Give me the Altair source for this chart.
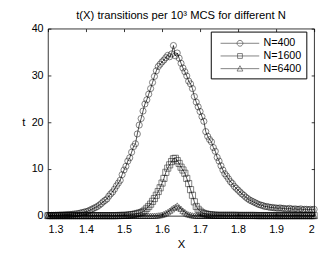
import altair as alt
import pandas as pd

X = [1.300, 1.305, 1.310, 1.315, 1.320, 1.325, 1.330, 1.335, 1.340, 1.345,
     1.350, 1.355, 1.360, 1.365, 1.370, 1.375, 1.380, 1.385, 1.390, 1.395,
     1.400, 1.405, 1.410, 1.415, 1.420, 1.425, 1.430, 1.435, 1.440, 1.445,
     1.450, 1.455, 1.460, 1.465, 1.470, 1.475, 1.480, 1.485, 1.490, 1.495,
     1.500, 1.505, 1.510, 1.515, 1.520, 1.525, 1.530, 1.535, 1.540, 1.545,
     1.550, 1.555, 1.560, 1.565, 1.570, 1.575, 1.580, 1.585, 1.590, 1.595,
     1.600, 1.605, 1.610, 1.615, 1.620, 1.625, 1.630, 1.635, 1.640, 1.645,
     1.650, 1.655, 1.660, 1.665, 1.670, 1.675, 1.680, 1.685, 1.690, 1.695,
     1.700, 1.705, 1.710, 1.715, 1.720, 1.725, 1.730, 1.735, 1.740, 1.745,
     1.750, 1.755, 1.760, 1.765, 1.770, 1.775, 1.780, 1.785, 1.790, 1.795,
     1.800, 1.805, 1.810, 1.815, 1.820, 1.825, 1.830, 1.835, 1.840, 1.845,
     1.850, 1.855, 1.860, 1.865, 1.870, 1.875, 1.880, 1.885, 1.890, 1.895,
     1.900, 1.905, 1.910, 1.915, 1.920, 1.925, 1.930, 1.935, 1.940, 1.945,
     1.950, 1.955, 1.960, 1.965, 1.970, 1.975, 1.980, 1.985, 1.990, 1.995,
     2.000]

t400 = [0.10, 0.10, 0.12, 0.12, 0.15, 0.15, 0.18, 0.20, 0.20, 0.25,
        0.25, 0.30, 0.30, 0.35, 0.40, 0.45, 0.50, 0.60, 0.70, 0.80,
        0.90, 1.00, 1.20, 1.40, 1.60, 1.80, 2.00, 2.30, 2.60, 3.00,
        3.30, 3.60, 4.20, 4.70, 5.10, 5.70, 6.40, 7.00, 7.60, 8.80,
        9.80, 10.6, 11.7, 12.4, 13.6, 14.8, 15.4, 17.5, 19.4, 20.8,
        22.4, 23.9, 24.8, 26.0, 27.2, 28.5, 29.8, 31.0, 31.9, 32.4,
        32.9, 33.3, 33.8, 34.3, 34.0, 34.6, 36.4, 34.2, 34.8, 33.7,
        32.6, 31.6, 30.8, 29.9, 28.8, 28.2, 27.2, 25.5, 24.3, 23.3,
        22.3, 21.2, 20.2, 18.0, 17.0, 16.3, 15.8, 14.6, 13.8, 12.5,
        11.7, 10.7, 9.8, 9.0, 8.5, 7.9, 7.3, 6.9, 6.3, 5.9,
        5.5, 5.1, 4.7, 4.4, 4.0, 3.7, 3.4, 3.2, 3.0, 2.8,
        2.6, 2.4, 2.3, 2.2, 2.0, 2.0, 1.9, 1.8, 1.8, 1.7,
        1.7, 1.6, 1.7, 1.6, 1.6, 1.5, 1.5, 1.6, 1.5, 1.4,
        1.5, 1.4, 1.4, 1.5, 1.3, 1.4, 1.4, 1.3, 1.4, 1.3,
        1.4]

t1600 = [0.05, 0.05, 0.05, 0.05, 0.05, 0.05, 0.05, 0.05, 0.05, 0.05,
         0.05, 0.05, 0.05, 0.05, 0.05, 0.05, 0.05, 0.05, 0.05, 0.05,
         0.05, 0.05, 0.05, 0.05, 0.05, 0.05, 0.05, 0.05, 0.05, 0.05,
         0.05, 0.05, 0.05, 0.05, 0.05, 0.05, 0.06, 0.07, 0.08, 0.09,
         0.10, 0.10, 0.15, 0.20, 0.25, 0.30, 0.40, 0.50, 0.60, 0.70,
         0.90, 1.20, 1.60, 2.00, 2.50, 3.10, 3.70, 4.40, 5.20, 6.00,
         7.00, 8.00, 9.30, 10.2, 10.9, 11.6, 12.2, 12.3, 11.8, 11.2,
         10.4, 9.8, 9.1, 8.0, 6.9, 5.6, 4.4, 3.0, 2.0, 1.4,
         1.0, 0.7, 0.5, 0.4, 0.3, 0.25, 0.20, 0.15, 0.15, 0.10,
         0.10, 0.10, 0.10, 0.10, 0.10, 0.10, 0.10, 0.10, 0.10, 0.10,
         0.08, 0.08, 0.08, 0.08, 0.08, 0.08, 0.08, 0.08, 0.08, 0.08,
         0.06, 0.06, 0.06, 0.06, 0.06, 0.06, 0.06, 0.06, 0.06, 0.06,
         0.05, 0.05, 0.05, 0.05, 0.05, 0.05, 0.05, 0.05, 0.05, 0.05,
         0.05, 0.05, 0.05, 0.05, 0.05, 0.05, 0.05, 0.05, 0.05, 0.05,
         0.05]

t6400 = [0.02, 0.02, 0.02, 0.02, 0.02, 0.02, 0.02, 0.02, 0.02, 0.02,
         0.02, 0.02, 0.02, 0.02, 0.02, 0.02, 0.02, 0.02, 0.02, 0.02,
         0.02, 0.02, 0.02, 0.02, 0.02, 0.02, 0.02, 0.02, 0.02, 0.02,
         0.02, 0.02, 0.02, 0.02, 0.02, 0.02, 0.02, 0.02, 0.02, 0.02,
         0.02, 0.02, 0.02, 0.02, 0.02, 0.02, 0.02, 0.02, 0.02, 0.02,
         0.02, 0.02, 0.02, 0.02, 0.02, 0.02, 0.03, 0.05, 0.10, 0.15,
         0.25, 0.40, 0.60, 0.80, 1.10, 1.40, 1.70, 1.90, 2.20, 1.80,
         1.50, 1.10, 0.80, 0.50, 0.30, 0.20, 0.10, 0.05, 0.03, 0.02,
         0.02, 0.02, 0.02, 0.02, 0.02, 0.02, 0.02, 0.02, 0.02, 0.02,
         0.02, 0.02, 0.02, 0.02, 0.02, 0.02, 0.02, 0.02, 0.02, 0.02,
         0.02, 0.02, 0.02, 0.02, 0.02, 0.02, 0.02, 0.02, 0.02, 0.02,
         0.02, 0.02, 0.02, 0.02, 0.02, 0.02, 0.02, 0.02, 0.02, 0.02,
         0.02, 0.02, 0.02, 0.02, 0.02, 0.02, 0.02, 0.02, 0.02, 0.02,
         0.02, 0.02, 0.02, 0.02, 0.02, 0.02, 0.02, 0.02, 0.02, 0.02,
         0.02]

series = ["N=400", "N=1600", "N=6400"]
x_ticks = [1.3, 1.4, 1.5, 1.6, 1.7, 1.8, 1.9, 2.0]
y_ticks = [0, 10, 20, 30, 40]

rows = []
for name, vals in zip(series, [t400, t1600, t6400]):
    for xv, tv in zip(X, vals):
        rows.append({"X": xv, "t": tv, "N": name})
df = pd.DataFrame(rows)

# data for the legend only (placed outside the domain and clipped)
leg_df = pd.DataFrame({"X": [1.0, 1.0, 1.0], "t": [-5, -5, -5], "S": series})

FONT = "Liberation Sans"
W, H = 273, 192

xscale = alt.Scale(domain=[1.3, 2.0], nice=False, zero=False)
yscale = alt.Scale(domain=[0, 40], nice=False)

tick_axis = dict(labels=False, domain=False, grid=False, ticks=True, tickSize=3,
                 tickColor="black", tickWidth=0.8, title=None)

lines = alt.Chart(df).mark_line(color="black", strokeWidth=0.7).encode(
    x=alt.X("X:Q", scale=xscale,
            axis=alt.Axis(values=x_ticks, format="~g", title="X", grid=False,
                          domain=False, ticks=False, labelPadding=8,
                          labelFont=FONT, labelFontSize=11, labelColor="black",
                          titleFont=FONT, titleFontSize=11.5, titleFontWeight="normal",
                          titleColor="black", titlePadding=4)),
    y=alt.Y("t:Q", scale=yscale,
            axis=alt.Axis(values=y_ticks, title="t", grid=False, domain=False,
                          ticks=False, labelPadding=5,
                          labelFont=FONT, labelFontSize=11, labelColor="black",
                          titleFont=FONT, titleFontSize=11.5, titleFontWeight="normal",
                          titleColor="black", titleAngle=0, titleBaseline="middle",
                          titlePadding=8)),
    detail="N:N",
)

points = alt.Chart(df).mark_point(filled=False, color="black", strokeWidth=0.7, size=40).encode(
    x=alt.X("X:Q", scale=xscale,
            axis=alt.Axis(orient="top", offset=-H, values=x_ticks, **tick_axis)),
    y=alt.Y("t:Q", scale=yscale,
            axis=alt.Axis(orient="right", offset=-W, values=y_ticks, **tick_axis)),
    shape=alt.Shape("N:N", sort=series,
                    scale=alt.Scale(domain=series, range=["circle", "square", "triangle-up"]),
                    legend=None),
)

# legend symbols: a line with the marker in its middle (units of 6.5 px)
paths = [
    "M-0.3,0H5.8M2.3,0A0.46,0.46 0 1 1 3.22,0A0.46,0.46 0 1 1 2.3,0",
    "M-0.3,0H5.8M2.38,-0.38H3.14V0.38H2.38Z",
    "M-0.3,0H5.8M2.76,-0.46L3.22,0.38L2.3,0.38Z",
]

legend_layer = alt.Chart(leg_df).mark_point(filled=False, color="black", strokeWidth=0.7,
                                            clip=True).encode(
    x=alt.X("X:Q", scale=xscale,
            axis=alt.Axis(orient="bottom", offset=-H, values=x_ticks, **tick_axis)),
    y=alt.Y("t:Q", scale=yscale,
            axis=alt.Axis(orient="left", offset=-W, values=y_ticks, **tick_axis)),
    shape=alt.Shape("S:N", sort=series,
                    scale=alt.Scale(domain=series, range=paths),
                    legend=alt.Legend(orient="none", legendX=167, legendY=3, title=None,
                                      strokeColor="black", fillColor="white", padding=5,
                                      symbolSize=169, symbolStrokeWidth=0.7,
                                      symbolStrokeColor="black",
                                      labelFont=FONT, labelFontSize=11, labelColor="black",
                                      labelOffset=35, rowPadding=1, cornerRadius=0)),
)

chart = alt.layer(lines, points, legend_layer).resolve_scale(
    shape="independent"
).resolve_axis(
    x="independent", y="independent"
).properties(
    width=W, height=H,
    autosize=alt.AutoSizeParams(type="none"),
    padding={"left": 41, "top": 18, "right": 5, "bottom": 39},
    title=alt.TitleParams(text="t(X) transitions per 10³ MCS for different N",
                          font=FONT, fontSize=11.5, fontWeight="normal", color="black",
                          offset=1, anchor="middle", frame="group"),
    background="white",
).configure_view(stroke="black", strokeWidth=0.8)

chart.save("out.html", embed_options={"renderer": "svg", "actions": False})
